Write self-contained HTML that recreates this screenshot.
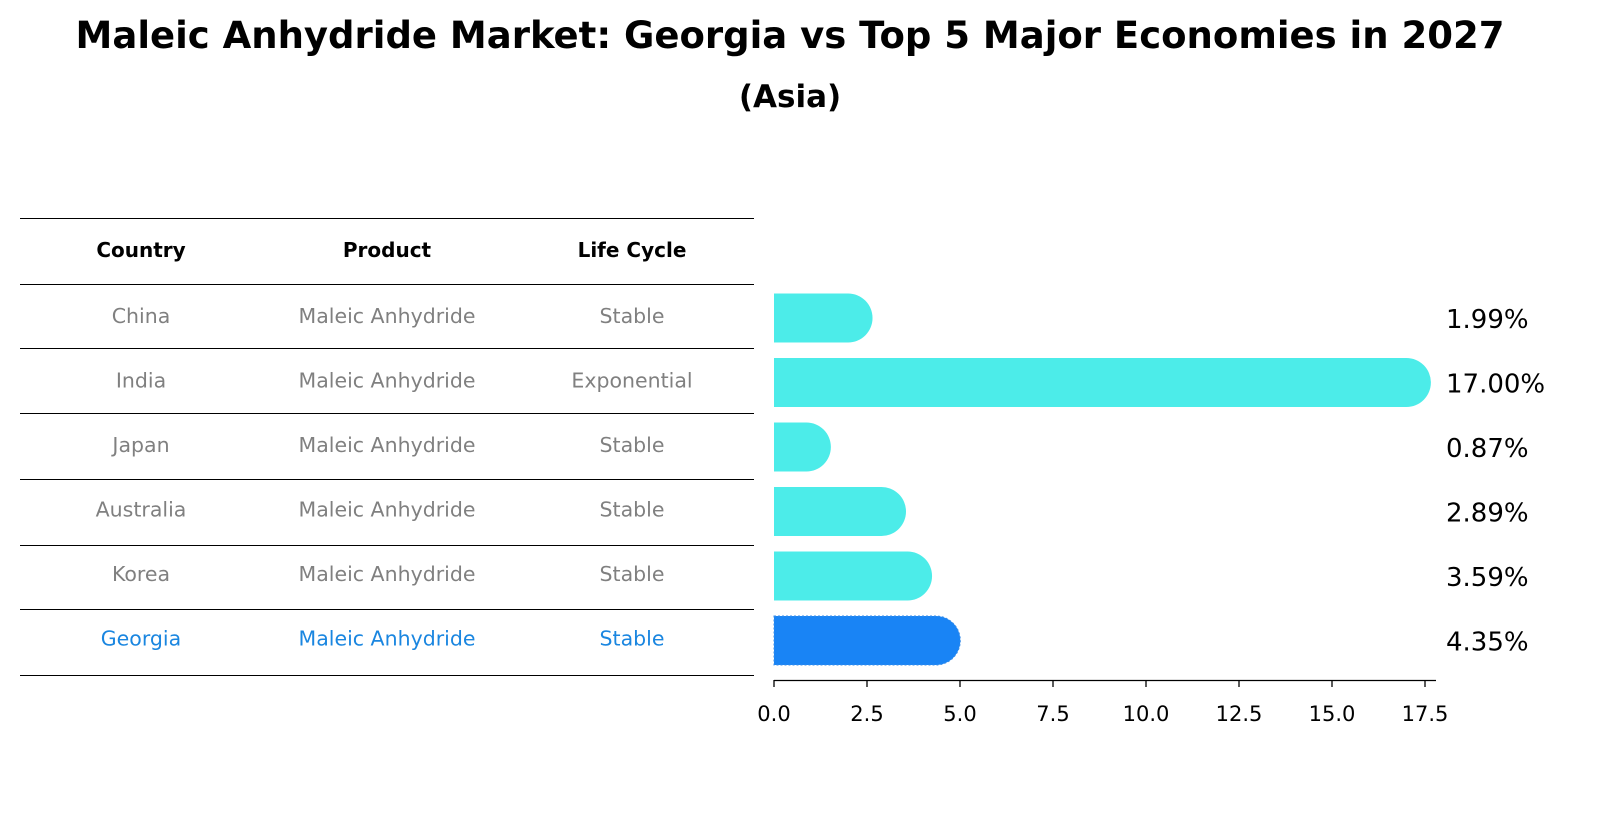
<!DOCTYPE html>
<html><head><meta charset="utf-8"><style>
body{margin:0;background:#fff;font-family:"DejaVu Sans","Liberation Sans",sans-serif;}
#c{position:relative;width:1604px;height:823px;overflow:hidden;}
</style></head><body><div id="c">
<svg width="1604" height="823" xmlns="http://www.w3.org/2000/svg" font-family="DejaVu Sans, Liberation Sans, sans-serif">
<text x="790" y="48" text-anchor="middle" font-size="37" font-weight="bold">Maleic Anhydride Market: Georgia vs Top 5 Major Economies in 2027</text>
<text x="790" y="107" text-anchor="middle" font-size="31" font-weight="bold">(Asia)</text>
<g id="table"></g>
<g id="bars"></g>
</svg></div>
<script>
const countries=["China","India","Japan","Australia","Korea","Georgia"];
const products=["Maleic Anhydride","Maleic Anhydride","Maleic Anhydride","Maleic Anhydride","Maleic Anhydride","Maleic Anhydride"];
const lifecycles=["Stable","Exponential","Stable","Stable","Stable","Stable"];
const values=[1.99,17.00,0.87,2.89,3.59,4.35];
const ticks=[0,2.5,5,7.5,10,12.5,15,17.5];
const NS="http://www.w3.org/2000/svg";
const tb=document.getElementById('table'),bg=document.getElementById('bars');
function mk(tag,attrs,parent,txt){const e=document.createElementNS(NS,tag);for(const k in attrs)e.setAttribute(k,attrs[k]);if(txt!==undefined)e.textContent=txt;parent.appendChild(e);return e;}
const lines=[218,284,348,413,479,545,609,675];
lines.forEach(y=>{const l=mk('line',{x1:20,x2:754,y1:y+0.5,y2:y+0.5,stroke:'#000','stroke-width':1},tb);

});
const cx=[141,387,632];
["Country","Product","Life Cycle"].forEach((h,i)=>{const t=mk('text',{x:cx[i],y:257,'text-anchor':'middle','font-size':20,'font-weight':'bold'},tb,h);

});
const X=v=>774+v*37.2;
const rowY=i=>316+i*64.5;
countries.forEach((c,i)=>{
 const col=i===countries.length-1?'#1a86e0':'#808080';
 [c,products[i],lifecycles[i]].forEach((s,j)=>{const t=mk('text',{x:cx[j],y:rowY(i)+7,'text-anchor':'middle','font-size':20.5,fill:col},tb,s);
 
 });
 const cy=rowY(i)+2,h=49,r=h/2,x0=X(0),x1=X(values[i]);
 const isG=i===countries.length-1;
 const p=mk('path',{d:`M${x0},${cy-r} H${x1} A${r},${r} 0 0 1 ${x1},${cy+r} H${x0} Z`,fill:isG?'#1984f5':'#4cece9',stroke:isG?'#3a8ee8':'none','stroke-dasharray':isG?'2,2':'','stroke-width':1},bg);
 
 
 const t=mk('text',{x:1446,y:cy+10,'font-size':26},bg,values[i].toFixed(2)+'%');
 
 
});
const ax=mk('line',{x1:774,x2:1436,y1:680.5,y2:680.5,stroke:'#000','stroke-width':1.3},bg);


ticks.forEach(v=>{const l=mk('line',{x1:X(v),x2:X(v),y1:680,y2:687,stroke:'#000','stroke-width':1.3},bg);


const t=mk('text',{x:X(v),y:721,'text-anchor':'middle','font-size':21},bg,v.toFixed(1));

});
</script></body></html>
